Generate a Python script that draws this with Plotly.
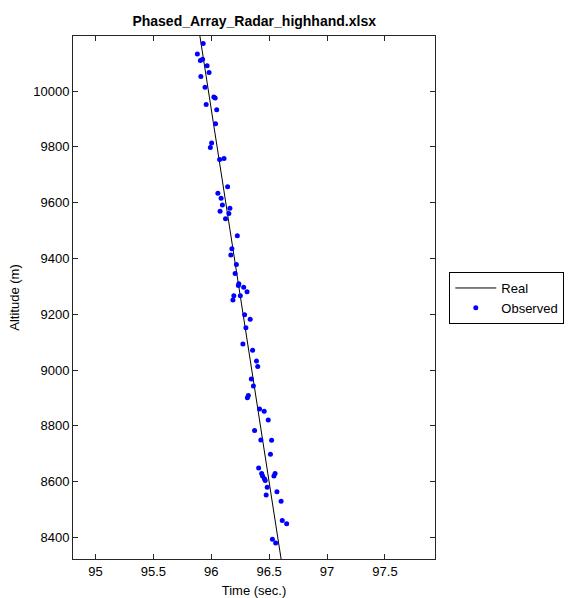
import plotly.graph_objects as go

# Radar track: reference trajectory endpoints (time in s, altitude in m)
real_time = [95.890, 96.610]
real_alt = [10229, 8304]

# Radar measurements
obs_time = [
    95.930, 95.880, 95.906, 95.925, 95.964, 95.981, 95.910, 95.946, 96.022, 96.034,
    95.956, 96.047, 96.037, 96.003, 95.992, 96.072, 96.110, 96.141, 96.057, 96.085,
    96.096, 96.161, 96.076, 96.152, 96.123, 96.225, 96.178, 96.169, 96.217, 96.206,
    96.238, 96.234, 96.280, 96.309, 96.195, 96.251, 96.187, 96.288, 96.336, 96.299,
    96.273, 96.357, 96.390, 96.401, 96.346, 96.364, 96.320, 96.312, 96.417, 96.457,
    96.492, 96.374, 96.428, 96.521, 96.511, 96.409, 96.435, 96.443, 96.459, 96.551,
    96.541, 96.466, 96.483, 96.567, 96.474, 96.603, 96.613, 96.651, 96.528, 96.556,
]
obs_alt = [
    10171, 10133, 10110, 10114, 10091, 10067, 10052, 10014, 9979, 9975,
    9952, 9933, 9883, 9814, 9798, 9755, 9758, 9657, 9634, 9616,
    9592, 9580, 9569, 9561, 9542, 9481, 9435, 9412, 9378, 9346,
    9309, 9303, 9297, 9281, 9266, 9266, 9251, 9198, 9182, 9152,
    9093, 9071, 9032, 9013, 8968, 8943, 8909, 8901, 8860, 8852,
    8821, 8783, 8749, 8748, 8698, 8649, 8629, 8620, 8610, 8629,
    8620, 8604, 8580, 8564, 8552, 8530, 8461, 8449, 8393, 8380,
]

x_ticks = [95, 95.5, 96, 96.5, 97, 97.5]
x_tick_text = ["95", "95.5", "96", "96.5", "97", "97.5"]
y_ticks = [8400, 8600, 8800, 9000, 9200, 9400, 9600, 9800, 10000]
y_tick_text = ["8400", "8600", "8800", "9000", "9200", "9400", "9600", "9800", "10000"]

FONT = "Liberation Sans, Arial, Helvetica, sans-serif"

fig = go.Figure()
fig.add_trace(go.Scatter(
    x=real_time, y=real_alt, mode="lines", name="Real",
    line=dict(color="black", width=1),
))
fig.add_trace(go.Scatter(
    x=obs_time, y=obs_alt, mode="markers", name="Observed",
    marker=dict(color="#0000ff", size=5, symbol="circle", line=dict(width=0)),
))

axis_common = dict(
    showgrid=False, zeroline=False, showline=True, linecolor="#262626", linewidth=1,
    mirror="allticks", ticks="inside", ticklen=5, tickcolor="#262626", tickwidth=1,
    tickfont=dict(family=FONT, size=13, color="black"), automargin=False,
)

fig.update_layout(
    width=568, height=598,
    margin=dict(l=73, r=133, t=36, b=39, autoexpand=False),
    paper_bgcolor="white", plot_bgcolor="white",
    font=dict(family=FONT, size=13, color="black"),
    title=dict(
        text="<b>Phased_Array_Radar_highhand.xlsx</b>",
        x=0.4475, xref="container", xanchor="center",
        y=1 - 21 / 598, yref="container", yanchor="middle",
        font=dict(family=FONT, size=14, color="black"),
    ),
    xaxis=dict(
        range=[94.806, 97.932], tickvals=x_ticks, ticktext=x_tick_text,
        title=dict(text="Time (sec.)", font=dict(family=FONT, size=13), standoff=13),
        **axis_common,
    ),
    yaxis=dict(
        range=[8322.6, 10197.5], tickvals=y_ticks, ticktext=y_tick_text,
        title=dict(text="Altitude (m)", font=dict(family=FONT, size=13), standoff=10),
        **axis_common,
    ),
    legend=dict(
        x=1.0395, y=0.499, xanchor="left", yanchor="middle",
        bgcolor="white", bordercolor="black", borderwidth=1,
        font=dict(family=FONT, size=13, color="black"),
        tracegroupgap=0, itemwidth=41,
    ),
    showlegend=True,
)

fig.write_html("out.html")
